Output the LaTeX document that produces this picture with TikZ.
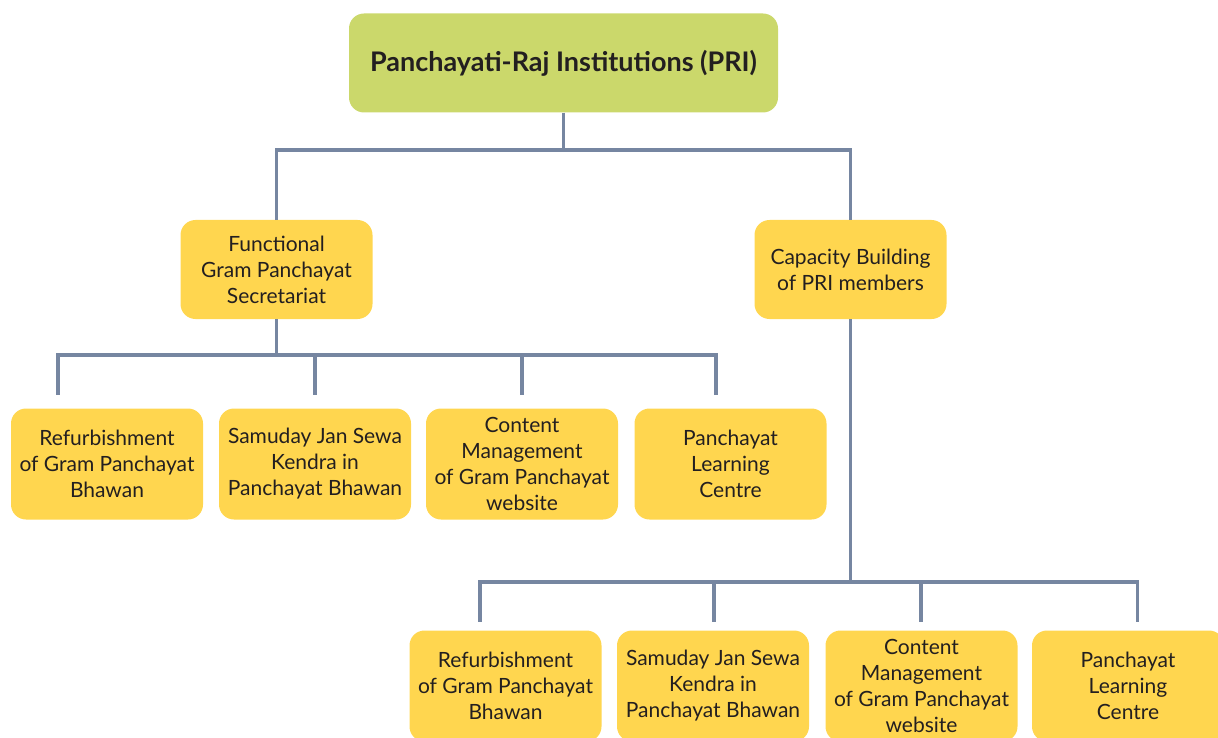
\documentclass[tikz,border=0pt]{standalone}
\usepackage{fontspec}
\setmainfont{Lato}
\usetikzlibrary{positioning}
\definecolor{rootgreen}{HTML}{CBD86B}
\definecolor{boxyellow}{HTML}{FFD64F}
\definecolor{linkgrey}{HTML}{7686A1}
\definecolor{textdark}{HTML}{231F20}

\begin{document}
\begin{tikzpicture}[x=1pt,y=-1pt,font=\fontsize{21}{26}\selectfont]

\tikzstyle{box}=[fill=boxyellow,rounded corners=15pt,minimum width=192pt,minimum height=111pt,align=center,text=textdark,inner sep=0pt]
\tikzstyle{rootbox}=[box,fill=rootgreen,minimum width=429pt,minimum height=99pt,font=\fontsize{27}{32}\selectfont\bfseries]
\tikzstyle{link}=[draw=linkgrey,line width=3.5pt]

    \clip (0,0) rectangle (1218,738);

    % top
    \node[rootbox] (pri) at (563.5,63) {Panchayati-Raj Institutions (PRI)};
    \node[box,minimum height=99pt] (func) at (276.5,269.5) {Functional\\Gram Panchayat\\Secretariat};
    \node[box,minimum height=99pt] (cap) at (850.5,269.5) {Capacity Building\\of PRI members};

    % first row
    \node[box] (refA) at (107,464) {Refurbishment\\of Gram Panchayat\\Bhawan};
    \node[box] (samA) at (315,464) {Samuday Jan Sewa\\Kendra in\\Panchayat Bhawan};
    \node[box] (contA) at (522,464) {Content\\Management\\of Gram Panchayat\\website};
    \node[box] (learnA) at (730.5,464) {Panchayat\\Learning\\Centre};

    % second row
    \node[box] (refB) at (505.5,686) {Refurbishment\\of Gram Panchayat\\Bhawan};
    \node[box] (samB) at (713,686) {Samuday Jan Sewa\\Kendra in\\Panchayat Bhawan};
    \node[box] (contB) at (921.5,686) {Content\\Management\\of Gram Panchayat\\website};
    \node[box] (learnB) at (1128,686) {Panchayat\\Learning\\Centre};

    % buses and drop ends
    \coordinate (topbus) at (563.5,150);
    \coordinate (leftbus) at (276.5,355);
    \coordinate (rightbus) at (850.5,582);
    \coordinate (dropA1) at (58,395);
    \coordinate (dropA2) at (315,395);
    \coordinate (dropA3) at (522,395);
    \coordinate (dropA4) at (716,395);
    \coordinate (dropB1) at (480,622);
    \coordinate (dropB2) at (714,622);
    \coordinate (dropB3) at (921,622);
    \coordinate (dropB4) at (1137.5,622);

\path[link]
    (pri.south) -- (topbus)
    (topbus) -| (func.north)
    (topbus) -| (cap.north)
    (func.south) -- (leftbus)
    (leftbus) -| (dropA1)
    (leftbus) -| (dropA2)
    (leftbus) -| (dropA3)
    (leftbus) -| (dropA4)
    (cap.south) -- (rightbus)
    (rightbus) -| (dropB1)
    (rightbus) -| (dropB2)
    (rightbus) -| (dropB3)
    (rightbus) -| (dropB4);
\end{tikzpicture}
\end{document}
